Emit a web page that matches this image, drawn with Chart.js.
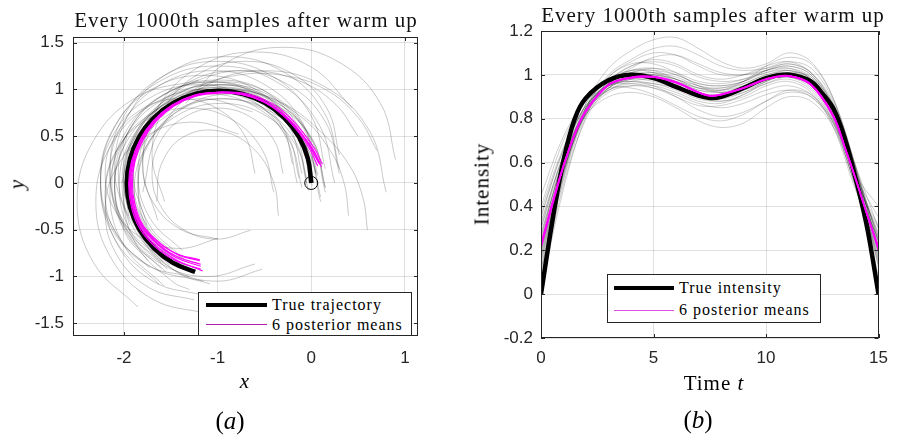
<!DOCTYPE html>
<html>
<head>
<meta charset="utf-8">
<script src="https://cdn.jsdelivr.net/npm/chart.js@4.4.1/dist/chart.umd.min.js"></script>
<style>
  body { margin: 0; background: #fff; }
  #fig { position: relative; width: 898px; height: 438px; overflow: hidden; background: #fff;
         font-family: "Liberation Serif", "DejaVu Serif", serif; color: #000; }
  canvas { position: absolute; top: 0; }
  .lbl { position: absolute; white-space: nowrap; transform: translate(-50%, -50%); }
  .title { font-size: 21px; letter-spacing: 1px; color: #111; }
  .ax { font-size: 21px; letter-spacing: 1px; }
  .rot { transform: translate(-50%, -50%) rotate(-90deg); }
  .sub { font-size: 25px; }
  .legend { position: absolute; background: #fff; border: 1px solid #262626; box-sizing: border-box; }
  .legend .ln { position: absolute; }
  .legend .tx { position: absolute; font-size: 16px; letter-spacing: 1px; transform: translateY(-50%); white-space: nowrap; }
</style>
</head>
<body>
<div id="fig">
  <canvas id="chartA" width="449" height="438" style="left:0;width:449px;height:438px"></canvas>
  <canvas id="chartB" width="449" height="438" style="left:449px;width:449px;height:438px"></canvas>

  <div class="lbl title" style="left:246px;top:20px">Every 1000th samples after warm up</div>
  <div class="lbl title" style="left:713px;top:15px">Every 1000th samples after warm up</div>

  <div class="lbl ax" style="left:245px;top:381px"><i>x</i></div>
  <div class="lbl ax rot" style="left:17px;top:184px"><i>y</i></div>
  <div class="lbl ax rot" style="left:482px;top:184px">Intensity</div>
  <div class="lbl ax" style="left:714px;top:383px">Time <i>t</i></div>

  <div class="lbl sub" style="left:230px;top:421px">(<i>a</i>)</div>
  <div class="lbl sub" style="left:698px;top:420px">(<i>b</i>)</div>

  <div class="legend" style="left:198px;top:292px;width:214px;height:44px">
    <div class="ln" style="left:7px;top:10px;width:61px;height:4px;background:#000"></div>
    <div class="tx" style="left:73px;top:12px">True trajectory</div>
    <div class="ln" style="left:7px;top:31px;width:61px;height:1px;background:#b01fb0"></div>
    <div class="tx" style="left:73px;top:32px">6 posterior means</div>
  </div>
  <div class="legend" style="left:607px;top:274px;width:214px;height:49px">
    <div class="ln" style="left:6px;top:11px;width:60px;height:4px;background:#000"></div>
    <div class="tx" style="left:71px;top:13px">True intensity</div>
    <div class="ln" style="left:6px;top:35px;width:60px;height:1px;background:#e050e0"></div>
    <div class="tx" style="left:71px;top:35px">6 posterior means</div>
  </div>
</div>

<script>
// ---- (a) trajectory panel ----
const xTicksA = [-2, -1, 0, 1];
const yTicksA = [-1.5, -1, -0.5, 0, 0.5, 1, 1.5];

const trueTrajX = [0, -0.034, -0.132, -0.289, -0.492, -0.730, -0.985, -1.240, -1.478, -1.681, -1.838, -1.936, -1.970, -1.936, -1.838, -1.681, -1.478, -1.240];
const trueTrajY = [0, 0.255, 0.493, 0.696, 0.853, 0.951, 0.985, 0.951, 0.853, 0.696, 0.493, 0.255, 0, -0.255, -0.493, -0.696, -0.853, -0.951];
const startPoint = [0, 0];

const meanTrajs = [
  [[0.10,0.19],[0.02,0.35],[-0.10,0.52],[-0.28,0.72],[-0.50,0.87],[-0.75,0.95],[-1.00,0.965],[-1.25,0.93],[-1.48,0.83],[-1.67,0.67],[-1.81,0.47],[-1.90,0.24],[-1.93,0.0],[-1.90,-0.24],[-1.80,-0.46],[-1.64,-0.63],[-1.43,-0.76],[-1.19,-0.82]],
  [[0.08,0.21],[0.00,0.36],[-0.11,0.53],[-0.29,0.72],[-0.51,0.87],[-0.76,0.955],[-1.01,0.97],[-1.26,0.935],[-1.49,0.83],[-1.68,0.67],[-1.82,0.47],[-1.91,0.24],[-1.94,0.0],[-1.91,-0.25],[-1.82,-0.48],[-1.66,-0.67],[-1.43,-0.83],[-1.16,-0.94]],
  [[0.11,0.17],[0.03,0.34],[-0.09,0.51],[-0.27,0.71],[-0.49,0.86],[-0.74,0.945],[-0.99,0.96],[-1.24,0.925],[-1.47,0.82],[-1.66,0.66],[-1.80,0.46],[-1.89,0.23],[-1.92,-0.01],[-1.89,-0.25],[-1.80,-0.47],[-1.64,-0.65],[-1.43,-0.79],[-1.18,-0.87]],
  [[0.07,0.18],[-0.01,0.35],[-0.12,0.52],[-0.30,0.72],[-0.52,0.87],[-0.77,0.95],[-1.02,0.965],[-1.27,0.93],[-1.50,0.82],[-1.69,0.66],[-1.83,0.46],[-1.92,0.23],[-1.95,-0.01],[-1.92,-0.26],[-1.83,-0.49],[-1.67,-0.68],[-1.45,-0.83],[-1.18,-0.92]],
  [[0.12,0.20],[0.04,0.36],[-0.08,0.53],[-0.26,0.73],[-0.48,0.88],[-0.73,0.96],[-0.98,0.97],[-1.23,0.935],[-1.46,0.83],[-1.65,0.67],[-1.79,0.47],[-1.88,0.24],[-1.91,0.0],[-1.88,-0.24],[-1.79,-0.46],[-1.63,-0.63],[-1.42,-0.77],[-1.19,-0.83]],
  [[0.09,0.20],[0.01,0.35],[-0.10,0.52],[-0.28,0.72],[-0.50,0.87],[-0.75,0.955],[-1.00,0.97],[-1.25,0.935],[-1.48,0.83],[-1.67,0.67],[-1.81,0.47],[-1.90,0.24],[-1.93,0.0],[-1.90,-0.25],[-1.81,-0.47],[-1.65,-0.65],[-1.44,-0.80],[-1.18,-0.89]]
];

// thinned MCMC samples (every 1000th)
const sampleTrajs = [
  [[0,0.05],[-0.134,0.55],[-0.5,0.916],[-1,1.05],[-1.5,0.916],[-1.866,0.55],[-2,0.05],[-1.866,-0.45],[-1.5,-0.816]],
  [[0.05,0.1],[-0.097,0.65],[-0.5,1.053],[-1.05,1.2],[-1.6,1.053],[-2.003,0.65],[-2.15,0.1],[-2.003,-0.45],[-1.6,-0.853]],
  [[-0.05,0],[-0.171,0.45],[-0.5,0.779],[-0.95,0.9],[-1.4,0.779],[-1.729,0.45],[-1.85,0],[-1.729,-0.45],[-1.4,-0.779]],
  [[0.3,0.15],[0.139,0.75],[-0.3,1.189],[-0.9,1.35],[-1.5,1.189],[-1.939,0.75],[-2.1,0.15],[-1.939,-0.45]],
  [[-0.1,-0.05],[-0.234,0.45],[-0.6,0.816],[-1.1,0.95],[-1.6,0.816],[-1.966,0.45],[-2.1,-0.05],[-1.966,-0.55],[-1.6,-0.916]],
  [[-0.2,0.2],[-0.307,0.6],[-0.6,0.893],[-1,1.0],[-1.4,0.893],[-1.693,0.6],[-1.8,0.2],[-1.693,-0.2],[-1.4,-0.493],[-1.0,-0.6]],
  [[0.3,0.1],[0.153,0.65],[-0.25,1.053],[-0.8,1.2],[-1.35,1.053],[-1.753,0.65],[-1.9,0.1],[-1.753,-0.45]],
  [[-0.15,0],[-0.291,0.525],[-0.675,0.909],[-1.2,1.05],[-1.725,0.909],[-2.109,0.525],[-2.25,0],[-2.109,-0.525],[-1.725,-0.909]],
  [[0.15,-0.1],[-0.004,0.475],[-0.425,0.896],[-1,1.05],[-1.575,0.896],[-1.996,0.475],[-2.15,-0.1],[-1.996,-0.675],[-1.575,-1.096]],
  [[0.3,0.3],[0.166,0.8],[-0.2,1.166],[-0.7,1.3],[-1.2,1.166],[-1.566,0.8],[-1.7,0.3],[-1.566,-0.2]],
  [[0.439,0.8],[0,1.239],[-0.6,1.4],[-1.2,1.239],[-1.639,0.8],[-1.8,0.2],[-1.639,-0.4]],
  [[-0.4,-0.1],[-0.521,0.35],[-0.85,0.679],[-1.3,0.8],[-1.75,0.679],[-2.079,0.35],[-2.2,-0.1],[-2.079,-0.55],[-1.75,-0.879],[-1.3,-1.0]],
  [[0.1,-0.2],[-0.061,0.4],[-0.5,0.839],[-1.1,1.0],[-1.7,0.839],[-2.139,0.4],[-2.3,-0.2],[-2.139,-0.8],[-1.7,-1.239],[-1.1,-1.4]],
  [[0,0.05],[-0.127,0.525],[-0.475,0.873],[-0.95,1.0],[-1.425,0.873],[-1.773,0.525],[-1.9,0.05],[-1.773,-0.425],[-1.425,-0.773],[-1.2,-0.87]],
  [[0.8,-0.1],[0.626,0.55],[0.15,1.026],[-0.5,1.2],[-1.15,1.026],[-1.626,0.55],[-1.8,-0.1]],
  [[-0.6,0.1],[-0.707,0.5],[-1.0,0.793],[-1.4,0.9],[-1.8,0.793],[-2.093,0.5],[-2.2,0.1],[-2.093,-0.3],[-1.8,-0.593],[-1.4,-0.7],[-1.0,-0.593]],
  [[0.25,0],[0.083,0.625],[-0.375,1.083],[-1,1.25],[-1.625,1.083],[-2.083,0.625],[-2.25,0],[-2.083,-0.625],[-1.625,-1.083]],
  [[0.15,-0.05],[0.016,0.45],[-0.35,0.816],[-0.85,0.95],[-1.35,0.816],[-1.716,0.45],[-1.85,-0.05],[-1.716,-0.55],[-1.35,-0.916]],
  [[0.03,0],[-0.115,0.54],[-0.51,0.935],[-1.05,1.08],[-1.59,0.935],[-1.985,0.54],[-2.13,0],[-1.985,-0.54],[-1.74,-0.83]],
  [[-0.3,0.1],[-0.394,0.45],[-0.65,0.706],[-1.0,0.8],[-1.35,0.706],[-1.606,0.45],[-1.7,0.1],[-1.606,-0.25],[-1.35,-0.506],[-1.0,-0.6],[-0.65,-0.506]],
  [[0.9,0.25],[0.739,0.85],[0.3,1.289],[-0.3,1.45],[-0.9,1.289],[-1.339,0.85]],
  [[0.6,-0.5],[0.55,-0.15],[0.4,0.2],[0.1,0.55],[-0.3,0.85],[-0.8,1.0],[-1.3,0.95],[-1.7,0.7],[-2.0,0.3]],
  [[0.4,-0.35],[0.35,0.0],[0.2,0.35],[-0.1,0.7],[-0.55,0.95],[-1.05,1.02],[-1.5,0.88],[-1.85,0.55],[-2.0,0.1],[-1.95,-0.35]],
  [[-0.05,0.05],[-0.197,0.6],[-0.6,1.003],[-1.15,1.15],[-1.7,1.003],[-2.103,0.6],[-2.25,0.05],[-2.103,-0.5],[-1.7,-0.903],[-1.15,-1.05]],
  [[0.05,0.1],[-0.077,0.575],[-0.425,0.923],[-0.9,1.05],[-1.375,0.923],[-1.723,0.575],[-1.85,0.1],[-1.723,-0.375],[-1.375,-0.723]],
  [[-1.2,1.1],[-1.85,0.926],[-2.326,0.45],[-2.5,-0.2],[-2.326,-0.85],[-1.85,-1.326]],
  [[0.1,-0.15],[-0.041,0.375],[-0.425,0.759],[-0.95,0.9],[-1.475,0.759],[-1.859,0.375],[-2.0,-0.15],[-1.859,-0.675],[-1.475,-1.059],[-1.3,-1.14]],
  [[0.15,0.15],[-0.004,0.725],[-0.425,1.146],[-1,1.3],[-1.575,1.146],[-1.996,0.725],[-2.15,0.15],[-1.996,-0.425],[-1.575,-0.846]],
  [[-0.35,-0.35],[-0.4,0.0],[-0.6,0.35],[-0.95,0.55],[-1.35,0.5],[-1.6,0.2],[-1.65,-0.2]],
  [[-0.775,0.523],[-1.25,0.65],[-1.725,0.523],[-2.073,0.175],[-2.2,-0.3],[-2.073,-0.775],[-1.725,-1.123],[-1.25,-1.25]],
  [[-1.475,0.723],[-1.823,0.375],[-1.95,-0.1],[-1.823,-0.575],[-1.475,-0.923],[-1,-1.05],[-0.525,-0.923]],
  [[-1.966,0.5],[-2.1,0],[-1.966,-0.5],[-1.6,-0.866],[-1.1,-1.0],[-0.6,-0.866]],
  [[-0.01,0.02],[-0.14,0.505],[-0.495,0.86],[-0.98,0.99],[-1.465,0.86],[-1.82,0.505],[-1.95,0.02],[-1.82,-0.465],[-1.465,-0.82],[-1.31,-0.89]],
  [[0.01,-0.03],[-0.128,0.485],[-0.505,0.862],[-1.02,1.0],[-1.535,0.862],[-1.912,0.485],[-2.05,-0.03],[-1.912,-0.545],[-1.535,-0.922]],
  [[0.07,0.08],[-0.064,0.58],[-0.43,0.946],[-0.93,1.08],[-1.43,0.946],[-1.796,0.58],[-1.93,0.08],[-1.796,-0.42],[-1.57,-0.69]],
  [[-0.13,0.05],[-0.253,0.51],[-0.59,0.847],[-1.05,0.97],[-1.51,0.847],[-1.847,0.51],[-1.97,0.05],[-1.847,-0.41],[-1.51,-0.747],[-1.36,-0.81]],
  [[0.034,0.376],[-0.45,0.953],[-1,1.1],[-1.55,0.953],[-1.953,0.55],[-2.1,0],[-1.953,-0.55],[-1.55,-0.953]],
  [[0.15,-0.05],[0.009,0.475],[-0.375,0.859],[-0.9,1.0],[-1.425,0.859],[-1.809,0.475],[-1.95,-0.05],[-1.809,-0.575],[-1.425,-0.959],[-1.08,-1.08]],
  [[-0.1,0.1],[-0.231,0.59],[-0.59,0.949],[-1.08,1.08],[-1.57,0.949],[-1.929,0.59],[-2.06,0.1],[-1.929,-0.39],[-1.57,-0.749]],
  [[-0.03,-0.08],[-0.155,0.385],[-0.495,0.725],[-0.96,0.85],[-1.425,0.725],[-1.765,0.385],[-1.89,-0.08],[-1.765,-0.545],[-1.425,-0.885],[-1.28,-0.95]],
  [[0.5,0.5],[0.25,0.85],[-0.15,1.1],[-0.65,1.2],[-1.15,1.12],[-1.6,0.85],[-1.9,0.45],[-2.02,0.0]],
  [[0.7,0.35],[0.5,0.7],[0.15,1.0],[-0.3,1.15],[-0.8,1.15],[-1.25,1.0],[-1.6,0.7]],
  [[-0.625,0.759],[-1.15,0.9],[-1.675,0.759],[-2.059,0.375],[-2.2,-0.15],[-2.059,-0.675],[-1.675,-1.059],[-1.15,-1.2]],
  [[0.02,0.0],[-0.117,0.51],[-0.49,0.883],[-1.0,1.02],[-1.51,0.883],[-1.883,0.51],[-2.02,0],[-1.883,-0.51],[-1.51,-0.883]]
];

// ---- (b) intensity panel ----
const xTicksB = [0, 5, 10, 15];
const yTicksB = [-0.2, 0, 0.2, 0.4, 0.6, 0.8, 1, 1.2];

const trueT = [0, 0.5, 1, 1.5, 2, 3, 4, 5, 6, 7, 7.5, 8, 9, 10, 11, 12, 12.5, 13, 13.5, 14, 14.5, 15];
const trueIntensity = [0, 0.33, 0.61, 0.80, 0.895, 0.975, 1.0, 0.985, 0.945, 0.905, 0.895, 0.90, 0.94, 0.985, 1.0, 0.97, 0.915, 0.845, 0.71, 0.52, 0.30, 0];

const meanT = [0, 0.5, 1, 1.5, 2, 3, 4, 5, 6, 7, 7.5, 8, 9, 10, 11, 12, 13, 13.5, 14, 14.5, 15];
const meanIntensity = [
  [0.22,0.41,0.585,0.73,0.835,0.955,0.987,0.99,0.965,0.92,0.905,0.91,0.94,0.98,0.995,0.955,0.81,0.67,0.52,0.36,0.21],
  [0.23,0.42,0.59,0.735,0.84,0.957,0.988,0.99,0.963,0.918,0.903,0.908,0.938,0.978,0.993,0.952,0.805,0.665,0.515,0.355,0.20],
  [0.21,0.40,0.58,0.725,0.832,0.953,0.986,0.991,0.967,0.922,0.907,0.912,0.942,0.982,0.997,0.958,0.815,0.675,0.525,0.365,0.215],
  [0.225,0.415,0.588,0.732,0.837,0.956,0.99,0.993,0.968,0.921,0.905,0.909,0.939,0.979,0.994,0.954,0.808,0.668,0.518,0.358,0.205],
  [0.215,0.405,0.582,0.728,0.834,0.954,0.985,0.989,0.964,0.919,0.904,0.911,0.941,0.981,0.996,0.956,0.812,0.672,0.522,0.362,0.212],
  [0.22,0.41,0.586,0.731,0.836,0.955,0.987,0.99,0.965,0.92,0.905,0.91,0.94,0.98,0.995,0.955,0.81,0.67,0.52,0.36,0.21]
];

const sampleT = [0, 1, 2, 3, 4, 5, 6, 7, 8, 9, 10, 11, 12, 13, 14, 15];
const sampleIntensity = [
  [0.10,0.52,0.82,0.96,1.02,1.03,1.00,0.96,0.95,0.97,1.01,1.03,0.99,0.84,0.55,0.18],
  [0.30,0.64,0.86,0.95,0.97,0.96,0.93,0.89,0.88,0.90,0.95,0.97,0.92,0.76,0.47,0.25],
  [0.18,0.57,0.84,0.97,1.04,1.07,1.05,1.00,0.98,1.00,1.04,1.06,1.01,0.85,0.54,0.15],
  [0.35,0.66,0.85,0.93,0.95,0.94,0.91,0.87,0.85,0.87,0.91,0.93,0.90,0.77,0.50,0.30],
  [0.05,0.50,0.80,0.94,1.00,1.01,0.98,0.94,0.93,0.96,1.00,1.02,0.98,0.83,0.53,0.12],
  [0.25,0.62,0.87,0.98,1.02,1.01,0.97,0.92,0.91,0.94,0.99,1.01,0.96,0.80,0.49,0.22],
  [0.40,0.70,0.88,0.95,0.96,0.94,0.90,0.86,0.86,0.89,0.93,0.95,0.91,0.78,0.53,0.35],
  [0.15,0.56,0.83,0.96,1.03,1.08,1.09,1.05,1.01,1.00,1.02,1.04,1.00,0.85,0.56,0.20],
  [0.28,0.60,0.82,0.92,0.95,0.95,0.92,0.88,0.87,0.91,0.96,0.99,0.95,0.81,0.54,0.27],
  [0.12,0.55,0.85,0.99,1.05,1.05,1.01,0.95,0.92,0.93,0.97,1.00,0.97,0.83,0.52,0.14],
  [0.22,0.58,0.83,0.94,0.98,0.99,0.97,0.94,0.94,0.97,1.02,1.05,1.01,0.86,0.57,0.24],
  [0.33,0.63,0.84,0.93,0.97,0.98,0.96,0.92,0.90,0.92,0.96,0.98,0.93,0.78,0.48,0.19],
  [0.08,0.53,0.84,0.99,1.06,1.10,1.09,1.04,1.00,1.00,1.03,1.06,1.03,0.88,0.58,0.23],
  [0.20,0.59,0.84,0.95,0.97,0.95,0.90,0.84,0.81,0.83,0.88,0.92,0.90,0.78,0.51,0.20],
  [0.38,0.67,0.86,0.95,0.99,1.00,0.98,0.94,0.92,0.94,0.99,1.02,0.98,0.82,0.52,0.28],
  [0.16,0.56,0.82,0.94,0.99,1.01,0.99,0.95,0.94,0.96,1.00,1.01,0.96,0.80,0.50,0.16],
  [0.26,0.61,0.85,0.96,1.00,0.99,0.95,0.90,0.88,0.91,0.97,1.01,0.99,0.86,0.58,0.30],
  [0.02,0.48,0.81,0.97,1.04,1.06,1.04,0.99,0.97,0.98,1.01,1.02,0.97,0.81,0.50,0.08],
  [0.30,0.62,0.83,0.93,0.96,0.96,0.94,0.91,0.91,0.94,0.98,0.99,0.94,0.79,0.51,0.24],
  [0.19,0.57,0.84,0.97,1.02,1.02,0.98,0.93,0.93,0.97,1.04,1.08,1.05,0.89,0.57,0.21],
  [0.45,0.72,0.88,0.94,0.94,0.91,0.86,0.81,0.79,0.82,0.88,0.93,0.91,0.79,0.54,0.40],
  [0.14,0.55,0.85,1.00,1.07,1.12,1.13,1.09,1.04,1.02,1.03,1.05,1.01,0.87,0.57,0.19],
  [0.24,0.60,0.84,0.95,0.99,1.00,0.98,0.95,0.93,0.95,0.98,0.99,0.95,0.81,0.53,0.26],
  [0.11,0.54,0.83,0.96,1.01,1.02,1.00,0.96,0.95,0.97,1.02,1.04,1.00,0.84,0.53,0.13],
  [0.20,0.58,0.87,1.03,1.11,1.16,1.17,1.12,1.06,1.03,1.05,1.10,1.06,0.89,0.56,0.22],
  [0.32,0.63,0.82,0.90,0.92,0.90,0.85,0.79,0.76,0.78,0.85,0.90,0.88,0.76,0.49,0.25],
  [0.21,0.59,0.85,0.96,1.00,1.00,0.97,0.93,0.92,0.95,0.99,1.01,0.97,0.82,0.52,0.20],
  [0.27,0.61,0.84,0.94,0.98,0.98,0.95,0.91,0.90,0.93,0.98,1.00,0.96,0.82,0.54,0.26],
  [0.17,0.56,0.83,0.96,1.01,1.03,1.01,0.97,0.96,0.98,1.02,1.03,0.98,0.82,0.51,0.17],
  [0.36,0.66,0.86,0.95,0.98,0.97,0.94,0.90,0.89,0.92,0.97,1.00,0.96,0.81,0.52,0.31]
];

const axisColor = '#262626';
const gridColor = 'rgba(38,38,38,0.14)';
const magenta = '#ff00ff';
const tickFont = { family: 'Liberation Sans', size: 17 };

// MATLAB-ish box with inward ticks on all four sides
const boxTicks = {
  id: 'boxTicks',
  afterDatasetsDraw(chart) {
    const { ctx, chartArea: a, scales } = chart;
    const len = 4;
    ctx.save();
    ctx.strokeStyle = axisColor;
    ctx.lineWidth = 1;
    ctx.beginPath();
    scales.x.ticks.forEach(t => {
      const px = Math.round(scales.x.getPixelForValue(t.value)) + 0.5;
      ctx.moveTo(px, a.bottom); ctx.lineTo(px, a.bottom - len);
      ctx.moveTo(px, a.top); ctx.lineTo(px, a.top + len);
    });
    scales.y.ticks.forEach(t => {
      const py = Math.round(scales.y.getPixelForValue(t.value)) + 0.5;
      ctx.moveTo(a.left, py); ctx.lineTo(a.left + len, py);
      ctx.moveTo(a.right, py); ctx.lineTo(a.right - len, py);
    });
    ctx.stroke();
    ctx.strokeRect(Math.round(a.left) + 0.5, Math.round(a.top) + 0.5, Math.round(a.width) - 1, Math.round(a.height) - 1);
    ctx.restore();
  }
};

function makeScale(min, max, tickValues, fitSize, pad, horizontal) {
  return {
    type: 'linear',
    min: min,
    max: max,
    afterBuildTicks: s => { s.ticks = tickValues.map(v => ({ value: v })); },
    afterFit: s => { if (horizontal) s.height = fitSize; else s.width = fitSize; },
    grid: { color: gridColor, drawTicks: false, lineWidth: 1 },
    border: { display: false },
    ticks: { padding: pad, color: axisColor, font: tickFont, maxRotation: 0, autoSkip: false, callback: v => String(v) }
  };
}

const commonOpts = {
  responsive: false,
  animation: false,
  devicePixelRatio: 1,
  plugins: { legend: { display: false }, tooltip: { enabled: false }, title: { display: false } },
  elements: { point: { radius: 0 } }
};

// panel (a)
const datasetsA = [];
sampleTrajs.forEach(tr => {
  datasetsA.push({
    data: tr.map(p => ({ x: p[0], y: p[1] })),
    showLine: true, borderColor: 'rgba(0,0,0,0.27)', borderWidth: 0.8,
    pointRadius: 0, tension: 0.4, order: 3
  });
});
datasetsA.push({
  data: trueTrajX.map((x, i) => ({ x: x, y: trueTrajY[i] })),
  showLine: true, borderColor: '#000', borderWidth: 4.5, borderCapStyle: 'butt',
  pointRadius: 0, tension: 0.4, order: 2
});
meanTrajs.forEach(tr => {
  datasetsA.push({
    data: tr.map(p => ({ x: p[0], y: p[1] })),
    showLine: true, borderColor: magenta, borderWidth: 1.1,
    pointRadius: 0, tension: 0.4, order: 1
  });
});
datasetsA.push({
  data: [{ x: startPoint[0], y: startPoint[1] }],
  showLine: false, pointRadius: 6.5, pointStyle: 'circle',
  pointBackgroundColor: 'rgba(0,0,0,0)', pointBorderColor: '#000', pointBorderWidth: 1, order: 0
});

new Chart(document.getElementById('chartA'), {
  type: 'scatter',
  data: { datasets: datasetsA },
  options: Object.assign({}, commonOpts, {
    layout: { padding: { left: 0, right: 31, top: 37, bottom: 0 } },
    scales: {
      x: makeScale(-2.544, 1.14, xTicksA, 102, 12, true),
      y: makeScale(-1.636, 1.56, yTicksA, 73, 9, false)
    }
  }),
  plugins: [boxTicks]
});

// panel (b)
const datasetsB = [];
sampleIntensity.forEach(vals => {
  datasetsB.push({
    data: sampleT.map((t, i) => ({ x: t, y: vals[i] })),
    showLine: true, borderColor: 'rgba(0,0,0,0.24)', borderWidth: 0.8,
    pointRadius: 0, tension: 0.35, order: 3
  });
});
datasetsB.push({
  data: trueT.map((t, i) => ({ x: t, y: trueIntensity[i] })),
  showLine: true, borderColor: '#000', borderWidth: 4.5,
  pointRadius: 0, tension: 0.35, order: 2
});
meanIntensity.forEach(vals => {
  datasetsB.push({
    data: meanT.map((t, i) => ({ x: t, y: vals[i] })),
    showLine: true, borderColor: magenta, borderWidth: 1.2,
    pointRadius: 0, tension: 0.35, order: 1
  });
});

new Chart(document.getElementById('chartB'), {
  type: 'scatter',
  data: { datasets: datasetsB },
  options: Object.assign({}, commonOpts, {
    layout: { padding: { left: 0, right: 12, top: 31, bottom: 0 } },
    scales: {
      x: makeScale(0, 15, xTicksB, 100, 10, true),
      y: makeScale(-0.2, 1.2, yTicksB, 92, 8, false)
    }
  }),
  plugins: [boxTicks]
});
</script>
</body>
</html>
